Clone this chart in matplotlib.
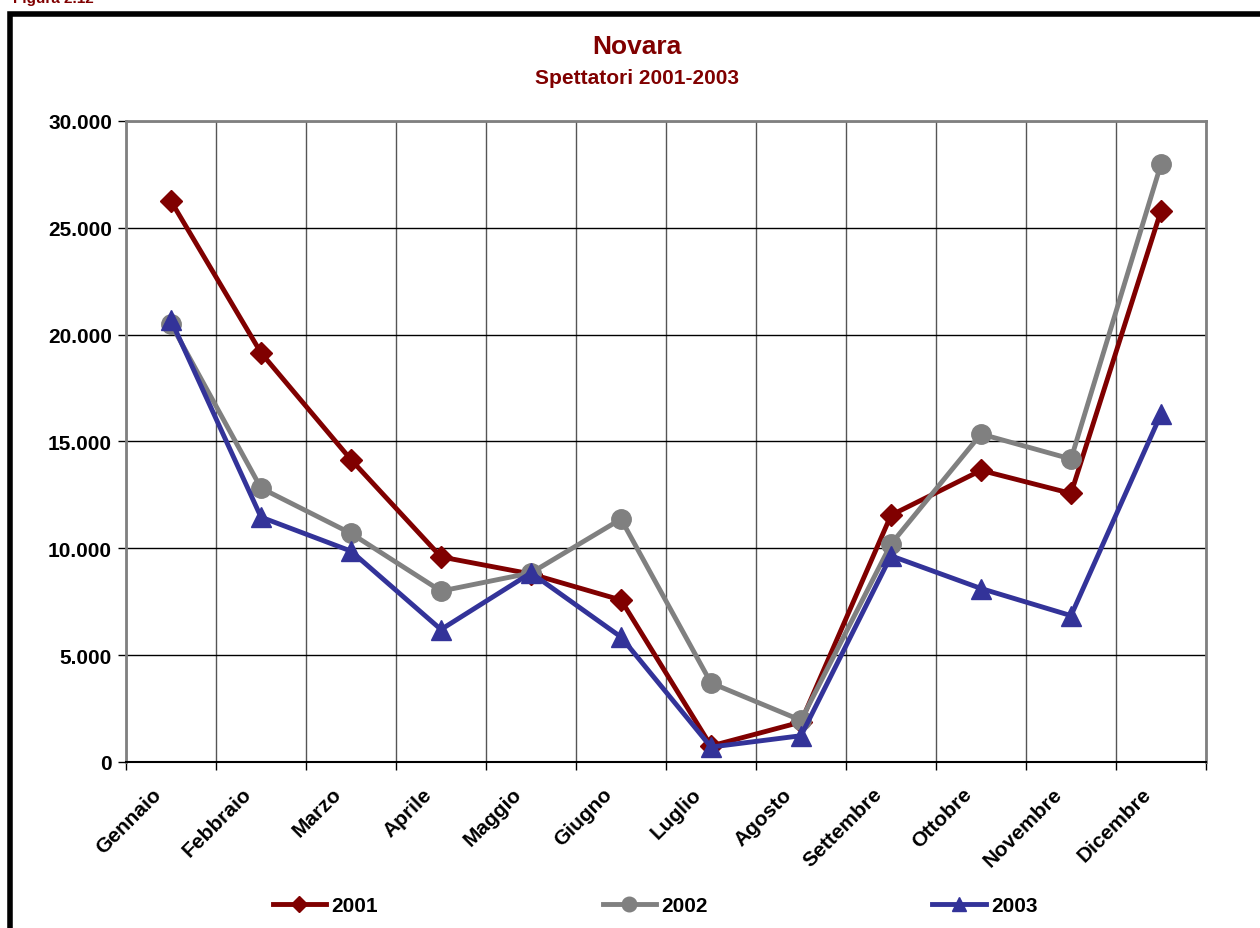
import matplotlib
matplotlib.use("Agg")
import matplotlib.pyplot as plt
from matplotlib.patches import Rectangle
from matplotlib.ticker import FuncFormatter, FixedLocator, NullFormatter
from matplotlib.transforms import ScaledTranslation
import numpy as np

plt.rcParams['font.family'] = ['Liberation Sans', 'DejaVu Sans']

months = ["Gennaio", "Febbraio", "Marzo", "Aprile", "Maggio", "Giugno",
          "Luglio", "Agosto", "Settembre", "Ottobre", "Novembre", "Dicembre"]
s2001 = [26250, 19150, 14150, 9600, 8800, 7580, 750, 1870, 11550, 13650, 12570, 25800]
s2002 = [20500, 12820, 10700, 8000, 8850, 11370, 3700, 1950, 10200, 15350, 14180, 27980]
s2003 = [20680, 11460, 9870, 6200, 8850, 5850, 700, 1230, 9650, 8120, 6850, 16280]
series_labels = ["2001", "2002", "2003"]
y_ticks = [0, 5000, 10000, 15000, 20000, 25000, 30000]

W, H = 1260, 929
fig = plt.figure(figsize=(W / 100, H / 100), dpi=100)
ax = fig.add_axes([126 / W, (H - 763) / H, (1206 - 126) / W, (763 - 122) / H])

x = np.arange(len(months)) + 0.5
red, grey, blue = "#800000", "#808080", "#333399"
ax.plot(x, s2001, color=red, lw=3.5, marker='D', ms=11, label=series_labels[0], zorder=3)
ax.plot(x, s2002, color=grey, lw=3.5, marker='o', ms=14, label=series_labels[1], zorder=3)
ax.plot(x, s2003, color=blue, lw=3.5, marker='^', ms=14, label=series_labels[2], zorder=4)

ax.set_xlim(0, len(months))
ax.set_ylim(0, 30000)
ax.xaxis.set_major_locator(FixedLocator(np.arange(0, len(months) + 1)))
ax.xaxis.set_major_formatter(NullFormatter())
ax.tick_params(axis='x', which='major', length=6, width=1, color='black', direction='out')

# month labels, anchored below each category centre
lab_trans = ax.get_xaxis_transform() + ScaledTranslation(-19 / 100, -22 / 100, fig.dpi_scale_trans)
for xi, m in zip(x, months):
    ax.text(xi, 0, m, transform=lab_trans, rotation=45, ha='right', va='top',
            rotation_mode='anchor', fontsize=15, fontweight='bold', clip_on=False)

ax.set_yticks(y_ticks)
ax.yaxis.set_major_formatter(FuncFormatter(lambda v, p: f"{int(v):,}".replace(",", ".")))
ax.tick_params(axis='y', length=6, width=1, direction='out', pad=4)
for lab in ax.get_yticklabels():
    lab.set_fontsize(15)
    lab.set_fontweight('bold')

ax.grid(axis='y', color='black', lw=1)
ax.grid(axis='x', which='major', color='#555555', lw=1)
ax.set_axisbelow(True)
for side in ['top', 'right', 'left']:
    ax.spines[side].set_color('#808080')
    ax.spines[side].set_linewidth(2)
ax.spines['bottom'].set_color('black')
ax.spines['bottom'].set_linewidth(1.5)

fig.text(637 / W, 1 - 47 / H, "Novara", ha='center', va='center',
         fontsize=19, fontweight='bold', color=red)
fig.text(637 / W, 1 - 78 / H, "Spettatori 2001-2003", ha='center', va='center',
         fontsize=15, fontweight='bold', color=red)
fig.text(13 / W, 1 - 6 / H, "Figura 2.12", ha='left', va='bottom',
         fontsize=11, fontweight='bold', color=red)

fig.patches.append(Rectangle((9.5 / W, -0.1), 1.2, 1 - 14.5 / H + 0.1,
                             transform=fig.transFigure, fill=False,
                             edgecolor='black', lw=4, zorder=0))

leg = fig.legend(loc='center', bbox_to_anchor=(655 / W, 1 - 907 / H), ncol=3,
                 frameon=False, handlelength=2.55, handletextpad=0.25,
                 columnspacing=10.8, prop={'weight': 'bold', 'size': 15},
                 markerscale=0.75)

fig.savefig("out.png", dpi=100)
